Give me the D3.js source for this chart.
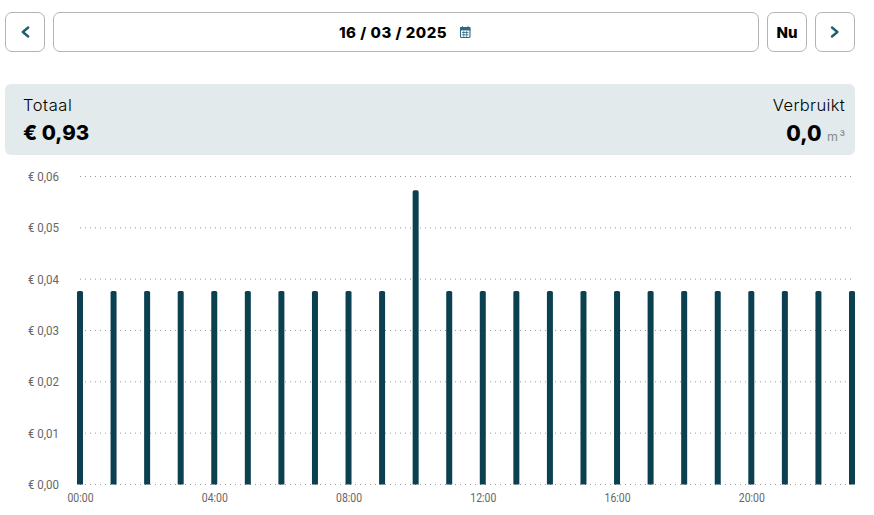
<!DOCTYPE html>
<html><head><meta charset="utf-8">
<script src="https://cdnjs.cloudflare.com/ajax/libs/d3/7.8.5/d3.min.js"></script>
<style>html,body{margin:0;padding:0;background:#fff;overflow:hidden}svg{display:block}</style>
</head><body><svg id="c" width="874" height="515"></svg>
<script>
const hours=["00:00","01:00","02:00","03:00","04:00","05:00","06:00","07:00","08:00","09:00","10:00","11:00","12:00","13:00","14:00","15:00","16:00","17:00","18:00","19:00","20:00","21:00","22:00","23:00"];
const values=[0.0377,0.0377,0.0377,0.0377,0.0377,0.0377,0.0377,0.0377,0.0377,0.0377,0.0573,0.0377,0.0377,0.0377,0.0377,0.0377,0.0377,0.0377,0.0377,0.0377,0.0377,0.0377,0.0377,0.0377];
const yTicks=[0,0.01,0.02,0.03,0.04,0.05,0.06];
const xTickLabels=["00:00","04:00","08:00","12:00","16:00","20:00"];
const dark="#0b4050",teal="#1f5f70",head="'Inter',sans-serif";
const svg=d3.select("#c");
const x=d3.scalePoint().domain(hours).range([80,852]);
const y=d3.scaleLinear().domain([0,0.06]).range([484.5,176.5]);
const fmt=v=>"€ "+v.toFixed(2).replace(".",",");

function box(bx,by,w,h){svg.append("rect").attr("x",bx+.5).attr("y",by+.5).attr("width",w-1).attr("height",h-1).attr("rx",6.5).attr("fill","#fff").attr("stroke","#b3b3b3").attr("stroke-width",1);}
box(5,12,40,40);box(53,12,706,40);box(767,12,40,40);box(815,12,40,40);
const chev=d=>svg.append("path").attr("d",d).attr("fill","none").attr("stroke",teal).attr("stroke-width",2.4).attr("stroke-linecap","round").attr("stroke-linejoin","round");
chev("M28.2,27.5L22.8,32L28.2,36.5");
chev("M832,27.5L837.4,32L832,36.5");
const t=(tx,ty,s,size,w,col,anchor)=>svg.append("text").attr("x",tx).attr("y",ty).text(s).attr("font-family",head).attr("font-size",size).attr("font-weight",w).attr("fill",col).attr("text-anchor",anchor||"start");
t(393,38,"16 / 03 / 2025",15,800,"#000","middle").attr("letter-spacing",.5);
t(787,38,"Nu",15,800,"#000","middle");
const cal=svg.append("g").attr("fill","none").attr("stroke","#2e6a80");
cal.append("rect").attr("x",460.5).attr("y",27.5).attr("width",9.5).attr("height",10).attr("rx",1).attr("stroke-width",1.1);
cal.append("rect").attr("x",460.5).attr("y",27.5).attr("width",9.5).attr("height",2.6).attr("fill","#2e6a80").attr("stroke-width",.6);
cal.append("path").attr("d","M462.5,26V28M468,26V28M462,32.5H468.5M462,34.8H468.5M463.8,31V37M466.7,31V37").attr("stroke-width",.8);

svg.append("rect").attr("x",5).attr("y",84).attr("width",850).attr("height",71).attr("rx",6).attr("fill","#e2eaec");
t(23,111,"Totaal",16.5,300,"#000").attr("letter-spacing",.55);
t(23,140,"€ 0,93",20.5,800,"#000");
t(845,111,"Verbruikt",16.5,300,"#000","end").attr("letter-spacing",.35);
t(821.5,141,"0,0",21,800,"#000","end");
t(827,141,"m³",12.5,400,"#858a8d").attr("textLength",18);

const axisFont="'Roboto',sans-serif";
svg.append("g").selectAll("line").data(yTicks).join("line")
 .attr("x1",80).attr("x2",852).attr("y1",d=>y(d)).attr("y2",d=>y(d))
 .attr("stroke","#9a9a9a").attr("stroke-width",1).attr("stroke-dasharray","1 4");
const gy=svg.append("g").attr("transform","translate(59,0)").call(d3.axisLeft(y).tickValues(yTicks).tickFormat(fmt).tickSize(0).tickPadding(0));
gy.select(".domain").remove();
gy.selectAll("text").attr("font-family",axisFont).attr("font-size",12).attr("fill","#666").attr("dy","0.32em").attr("textLength",31).attr("lengthAdjust","spacingAndGlyphs");
const gx=svg.append("g").attr("transform","translate(0,484)").call(d3.axisBottom(x).tickValues(xTickLabels).tickSize(0).tickPadding(9));
gx.select(".domain").remove();
gx.selectAll("text").attr("font-family",axisFont).attr("font-size",12).attr("fill","#666").attr("textLength",26).attr("lengthAdjust","spacingAndGlyphs");
const r=1.6;
svg.append("g").selectAll("path").data(hours.map((h,i)=>({h,v:values[i]}))).join("path")
 .attr("d",d=>{const a=x(d.h)-3,b=x(d.h)+3,tp=y(d.v),bt=y(0);return `M${a},${bt}V${tp+r}Q${a},${tp} ${a+r},${tp}H${b-r}Q${b},${tp} ${b},${tp+r}V${bt}Z`;})
 .attr("fill",dark);
</script></body></html>
